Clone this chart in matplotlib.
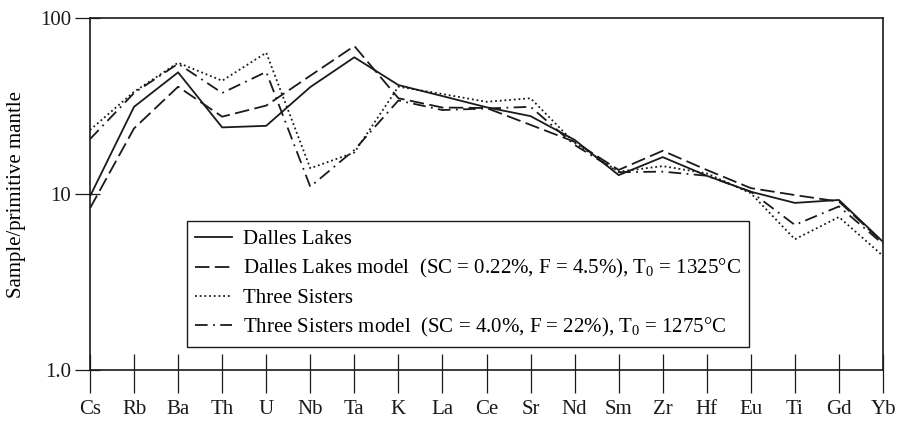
import matplotlib
matplotlib.use("Agg")
import matplotlib.pyplot as plt
from matplotlib.ticker import FixedLocator, NullLocator, NullFormatter

plt.rcParams['font.family'] = ['Liberation Serif', 'DejaVu Serif']
plt.rcParams['mathtext.fontset'] = 'custom'
plt.rcParams['mathtext.rm'] = 'Liberation Serif'
plt.rcParams['mathtext.it'] = 'Liberation Serif:italic'

elements = ["Cs", "Rb", "Ba", "Th", "U", "Nb", "Ta", "K", "La", "Ce", "Sr",
            "Nd", "Sm", "Zr", "Hf", "Eu", "Ti", "Gd", "Yb"]

dalles_lakes = [9.7, 31.3, 49.1, 23.9, 24.4, 40.5, 59.8, 41.6, 36.0, 31.1, 27.7,
                20.3, 12.8, 16.2, 12.7, 10.3, 8.9, 9.25, 5.35]
dalles_model = [8.3, 23.6, 40.7, 27.5, 31.8, 47.0, 69.3, 35.0, 31.0, 30.8, 24.7,
                19.8, 13.7, 17.6, 13.7, 10.8, 9.86, 9.06, 5.3]
three_sisters = [23.1, 38.1, 55.7, 44.0, 63.5, 14.0, 17.2, 40.7, 37.0, 33.4, 35.0,
                 19.5, 13.4, 14.4, 13.1, 10.1, 5.53, 7.4, 4.45]
three_model = [20.5, 37.5, 55.0, 37.5, 49.4, 11.0, 17.8, 34.0, 30.0, 30.6, 31.3,
               19.0, 13.3, 13.4, 12.7, 10.3, 6.67, 8.5, 5.2]
ytick_vals = [1, 10, 100]
ytick_labels = ["1.0", "10", "100"]

labels = [
    "Dalles Lakes",
    "Dalles Lakes model  (SC = 0.22%, F = 4.5%), $\\mathrm{T}_{0}$ = 1325°C",
    "Three Sisters",
    "Three Sisters model  (SC = 4.0%, F = 22%), $\\mathrm{T}_{0}$ = 1275°C",
]

fig = plt.figure(figsize=(8.97, 4.22), dpi=100)
ax = fig.add_axes([90/897, 52/422, 793/897, 352/422])

x = list(range(len(elements)))
lw = 1.3
ink = '#1a1a1a'
ax.plot(x, dalles_lakes, color=ink, lw=lw, ls='-', label=labels[0])
ax.plot(x, dalles_model, color=ink, lw=lw, ls=(0, (8, 3)), label=labels[1])
ax.plot(x, three_sisters, color=ink, lw=lw, ls=(0, (1, 1.6)), label=labels[2])
ax.plot(x, three_model, color=ink, lw=lw, ls=(0, (7, 3, 1, 3)), label=labels[3])

ax.set_yscale('log')
ax.set_ylim(1, 100)
ax.set_xlim(0, len(elements) - 1)

# y ticks: outward part as major, inward part as minor at same positions
ax.yaxis.set_major_locator(FixedLocator(ytick_vals))
ax.yaxis.set_minor_locator(FixedLocator(ytick_vals))
ax.yaxis.set_minor_formatter(NullFormatter())
ax.yaxis.remove_overlapping_locs = False
ax.set_yticklabels(ytick_labels)

ax.xaxis.set_major_locator(FixedLocator(x))
ax.xaxis.set_minor_locator(FixedLocator(x))
ax.xaxis.set_minor_formatter(NullFormatter())
ax.xaxis.remove_overlapping_locs = False
ax.set_xticklabels(elements)

for s in ax.spines.values():
    s.set_linewidth(1.2)
    s.set_color(ink)

ax.tick_params(axis='x', which='major', direction='out', length=16.5, width=0.9,
               labelsize=15, pad=5, colors=ink)
ax.tick_params(axis='x', which='minor', direction='in', length=11.3, width=0.9, colors=ink)
ax.tick_params(axis='y', which='major', direction='out', length=10.8, width=0.9,
               labelsize=15, pad=3, colors=ink)
ax.tick_params(axis='y', which='minor', direction='in', length=7.2, width=0.9, colors=ink)

ax.set_ylabel("Sample/primitive mantle", fontsize=15, labelpad=10)

leg = ax.legend(loc='lower left', bbox_to_anchor=(0.122, 0.065), fontsize=15,
                frameon=True, fancybox=False, edgecolor=ink, framealpha=1,
                handlelength=1.75, handletextpad=0.55, labelspacing=0.38,
                borderpad=0.4, borderaxespad=0)
leg.get_frame().set_linewidth(1.0)

fig.savefig("out.png", dpi=100)
